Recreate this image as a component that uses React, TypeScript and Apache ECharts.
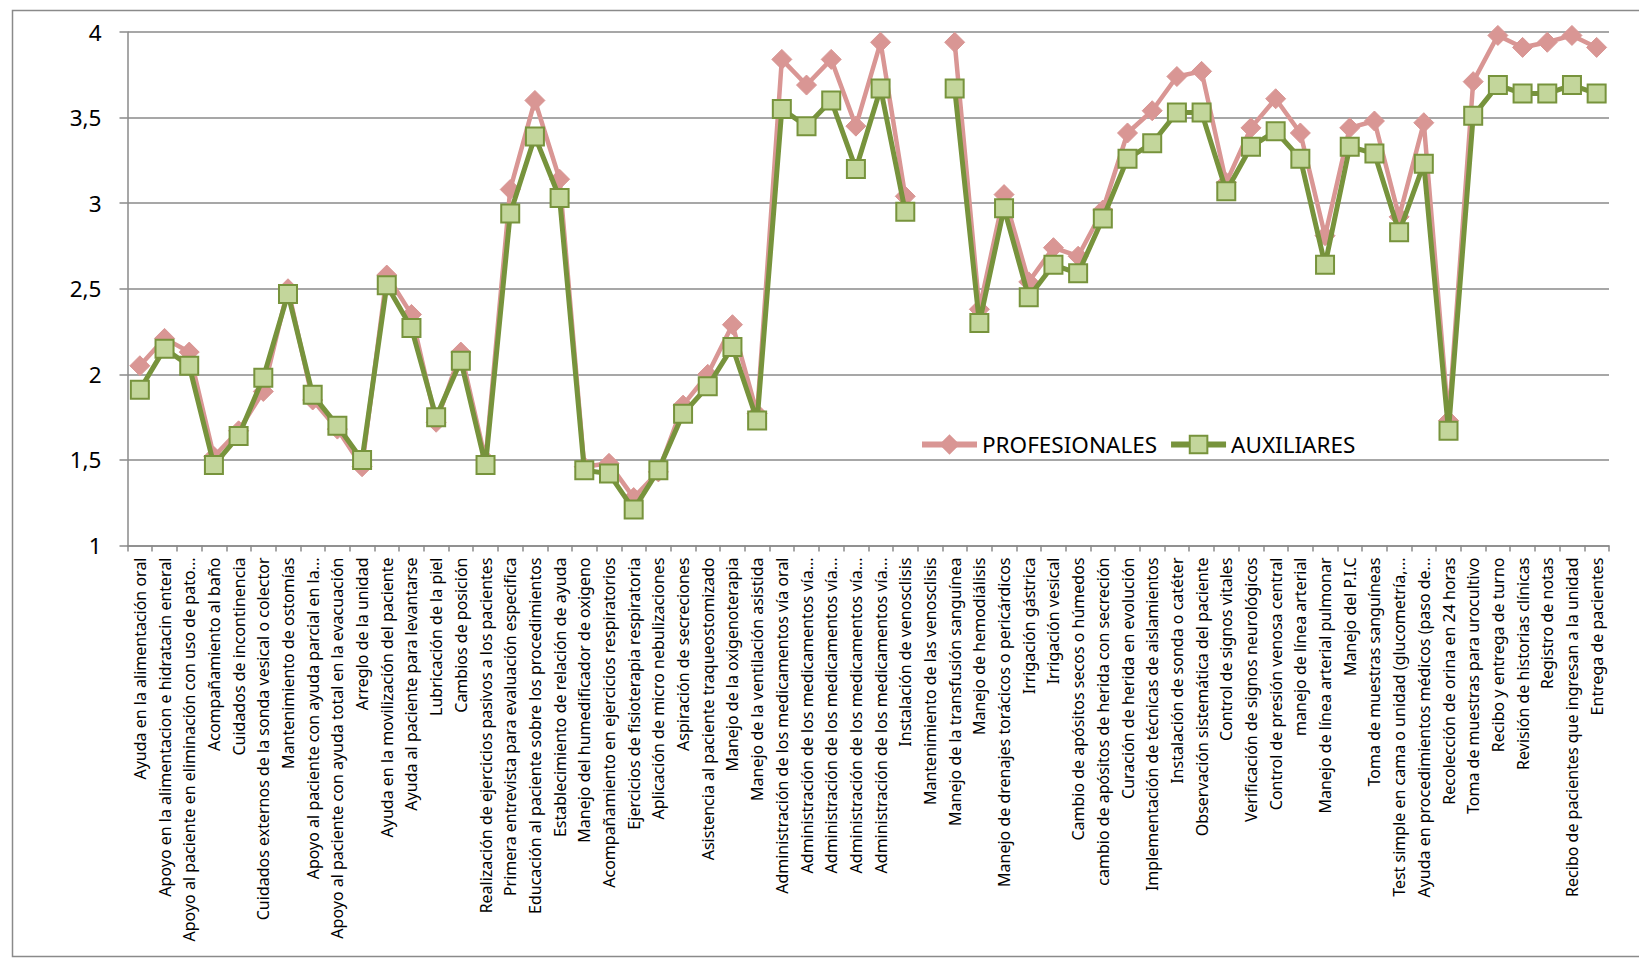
import React, { useEffect, useRef } from "react";
import * as echarts from "echarts";

const categories: string[] = [
  "Ayuda en la alimentación oral",
  "Apoyo en la alimentacion e hidratacin enteral",
  "Apoyo al paciente en eliminación con uso de pato...",
  "Acompañamiento al baño",
  "Cuidados de incontinencia",
  "Cuidados externos de la sonda vesical o colector",
  "Mantenimiento de ostomías",
  "Apoyo al paciente con ayuda parcial en la...",
  "Apoyo al paciente con ayuda total en la evacuación",
  "Arreglo de la unidad",
  "Ayuda en la movilización del paciente",
  "Ayuda al paciente para levantarse",
  "Lubricación de la piel",
  "Cambios de posición",
  "Realización de ejercicios pasivos a los pacientes",
  "Primera entrevista para evaluación especifica",
  "Educación al paciente sobre los procedimientos",
  "Establecimiento de relación de ayuda",
  "Manejo del humedificador de oxigeno",
  "Acompañamiento en ejercicios respiratorios",
  "Ejercicios de fisioterapia respiratoria",
  "Aplicación de micro nebulizaciones",
  "Aspiración de secreciones",
  "Asistencia al paciente traqueostomizado",
  "Manejo de la oxigenoterapia",
  "Manejo de la ventilación asistida",
  "Administración de los medicamentos vía oral",
  "Administración de los medicamentos vía...",
  "Administración de los medicamentos vía...",
  "Administración de los medicamentos vía...",
  "Administración de los medicamentos vía...",
  "Instalación de venosclisis",
  "Mantenimiento de las venosclisis",
  "Manejo de la transfusión sanguínea",
  "Manejo de hemodiálisis",
  "Manejo de drenajes torácicos o pericárdicos",
  "Irrigación gástrica",
  "Irrigación vesical",
  "Cambio de apósitos secos o húmedos",
  "cambio de apósitos de herida con secreción",
  "Curación de herida en evolución",
  "Implementación de técnicas de aislamientos",
  "Instalación de sonda o catéter",
  "Observación sistemática del paciente",
  "Control de signos vitales",
  "Verificación de signos neurológicos",
  "Control de presión venosa central",
  "manejo de línea arterial",
  "Manejo de línea arterial pulmonar",
  "Manejo del P.I.C",
  "Toma de muestras sanguíneas",
  "Test simple en cama o unidad (glucometría,...",
  "Ayuda en procedimientos médicos (paso de...",
  "Recolección de orina en 24 horas",
  "Toma de muestras para urocultivo",
  "Recibo y entrega de turno",
  "Revisión de historias clínicas",
  "Registro de notas",
  "Recibo de pacientes que ingresan a la unidad",
  "Entrega de pacientes",
];

const profesionales: (number | null)[] = [
  2.05, 2.21, 2.13, 1.52, 1.67, 1.9, 2.5, 1.85, 1.68, 1.46,
  2.58, 2.35, 1.72, 2.13, 1.5, 3.08, 3.6, 3.14, 1.46, 1.48,
  1.28, 1.43, 1.82, 2.0, 2.29, 1.77, 3.84, 3.69, 3.84, 3.45,
  3.94, 3.04, null, 3.94, 2.38, 3.05, 2.54, 2.74, 2.69, 2.96,
  3.41, 3.54, 3.74, 3.77, 3.12, 3.44, 3.61, 3.41, 2.81, 3.44,
  3.48, 2.92, 3.47, 1.73, 3.71, 3.98, 3.91, 3.94, 3.98, 3.91,
];

const auxiliares: (number | null)[] = [
  1.91, 2.15, 2.05, 1.47, 1.64, 1.98, 2.47, 1.88, 1.7, 1.5,
  2.52, 2.27, 1.75, 2.08, 1.47, 2.94, 3.39, 3.03, 1.44, 1.42,
  1.21, 1.44, 1.77, 1.93, 2.16, 1.73, 3.55, 3.45, 3.6, 3.2,
  3.67, 2.95, null, 3.67, 2.3, 2.97, 2.45, 2.64, 2.59, 2.91,
  3.26, 3.35, 3.53, 3.53, 3.07, 3.33, 3.42, 3.26, 2.64, 3.33,
  3.29, 2.83, 3.23, 1.67, 3.51, 3.69, 3.64, 3.64, 3.69, 3.64,
];

const seriesNames = ["PROFESIONALES", "AUXILIARES"];
const yMin = 1;
const yMax = 4;
const yStep = 0.5;

const FONT = "'Noto Sans', 'Open Sans', sans-serif";

export default function App() {
  const ref = useRef<HTMLDivElement>(null);

  useEffect(() => {
    if (!ref.current) return;
    const chart = echarts.init(ref.current, undefined, { renderer: "svg" });
    chart.setOption({
      animation: false,
      backgroundColor: "#ffffff",
      textStyle: { fontFamily: FONT },
      graphic: [
        {
          type: "rect",
          shape: { x: 12.5, y: 10.5, width: 1700, height: 946 },
          style: { fill: "none", stroke: "#8a8a8a", lineWidth: 1.5 },
          silent: true,
          z: -10,
        },
      ],
      legend: {
        left: 919,
        top: 433,
        padding: 0,
        itemWidth: 55,
        itemHeight: 22,
        itemGap: 11,
        lineStyle: { width: 6 },
        textStyle: { fontSize: 22.5, color: "#000", fontFamily: FONT },
        data: seriesNames,
      },
      grid: {
        left: 127.5,
        right: 30,
        top: 32,
        bottom: 413.5,
        containLabel: false,
      },
      xAxis: {
        type: "category",
        data: categories,
        boundaryGap: true,
        axisLine: { show: true, lineStyle: { color: "#8a8a8a", width: 1.5 } },
        axisTick: {
          show: true,
          interval: 0,
          length: 6,
          alignWithLabel: false,
          lineStyle: { color: "#8a8a8a", width: 1.5 },
        },
        axisLabel: {
          interval: 0,
          rotate: 90,
          margin: 12,
          fontSize: 16,
          color: "#000",
          fontFamily: FONT,
        },
        splitLine: { show: false },
      },
      yAxis: {
        type: "value",
        min: yMin,
        max: yMax,
        interval: yStep,
        axisLine: { show: true, lineStyle: { color: "#8a8a8a", width: 1.5 } },
        axisTick: { show: true, length: 8, lineStyle: { color: "#8a8a8a", width: 1.5 } },
        axisLabel: {
          margin: 26,
          fontSize: 22.5,
          color: "#000",
          fontFamily: FONT,
          formatter: (v: number) => String(v).replace(".", ","),
        },
        splitLine: { show: true, lineStyle: { color: "#8a8a8a", width: 1.5 } },
      },
      series: [
        {
          name: seriesNames[0],
          type: "line",
          data: profesionales,
          connectNulls: false,
          symbol: "diamond",
          symbolSize: 20,
          lineStyle: { color: "#D99694", width: 4.5 },
          itemStyle: { color: "#D99694", borderColor: "#D99694", borderWidth: 1 },
          z: 2,
        },
        {
          name: seriesNames[1],
          type: "line",
          data: auxiliares,
          connectNulls: false,
          symbol: "rect",
          symbolSize: 18,
          lineStyle: { color: "#77933C", width: 5 },
          itemStyle: { color: "#C3D69B", borderColor: "#77933C", borderWidth: 2 },
          z: 3,
        },
      ],
    });
    return () => chart.dispose();
  }, []);

  return (
    <div
      ref={ref}
      style={{ position: "absolute", left: 0, top: 0, width: 1639, height: 959 }}
    />
  );
}
